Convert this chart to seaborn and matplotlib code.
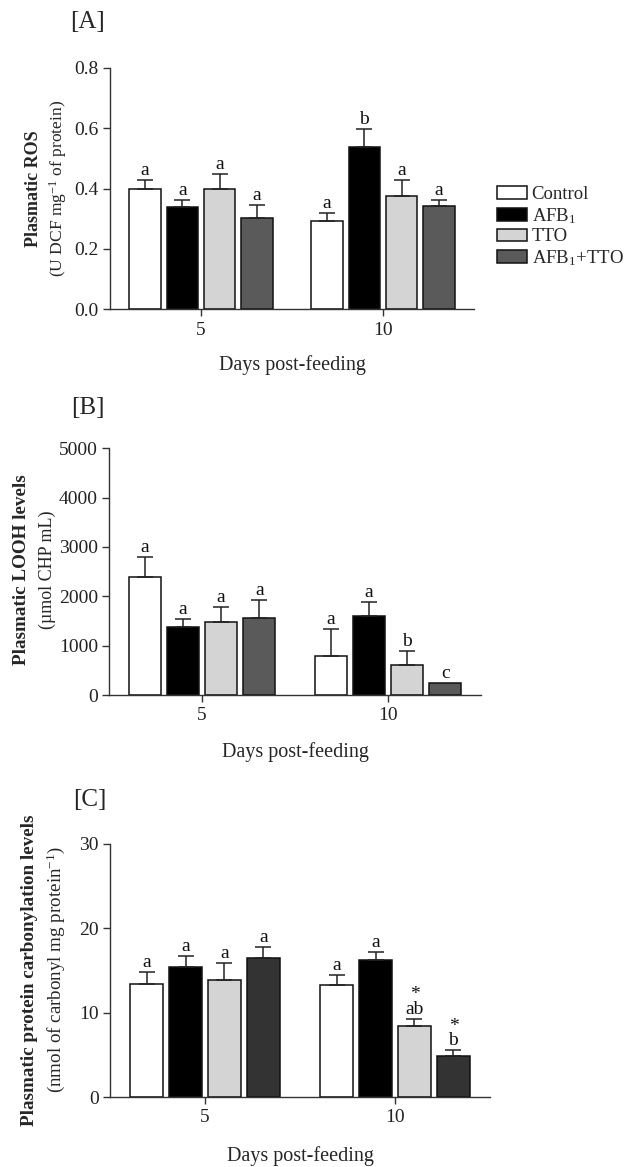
import matplotlib
matplotlib.use("Agg")
import matplotlib.pyplot as plt
import seaborn as sns
import pandas as pd
from matplotlib.patches import Patch

# ---------------- data ----------------
days = ["5", "10"]
groups = ["Control", "AFB$_1$", "TTO", "AFB$_1$+TTO"]

ros_d5 = [0.397, 0.340, 0.399, 0.301]
ros_d10 = [0.292, 0.536, 0.376, 0.343]
ros_err_d5 = [0.030, 0.022, 0.048, 0.044]
ros_err_d10 = [0.026, 0.060, 0.051, 0.018]
ros_letters_d5 = ["a", "a", "a", "a"]
ros_letters_d10 = ["a", "b", "a", "a"]

looh_d5 = [2392, 1369, 1470, 1565]
looh_d10 = [800, 1599, 605, 245]
looh_err_d5 = [406, 169, 305, 352]
looh_err_d10 = [535, 284, 285, 0]
looh_letters_d5 = ["a", "a", "a", "a"]
looh_letters_d10 = ["a", "a", "b", "c"]

carb_d5 = [13.44, 15.34, 13.87, 16.44]
carb_d10 = [13.32, 16.25, 8.46, 4.90]
carb_err_d5 = [1.42, 1.34, 2.02, 1.35]
carb_err_d10 = [1.18, 0.90, 0.83, 0.67]
carb_letters_d5 = ["a", "a", "a", "a"]
carb_letters_d10 = ["a", "a", "*\nab", "*\nb"]

colors_ab = ["#ffffff", "#000000", "#d4d4d4", "#5a5a5a"]
colors_c = ["#ffffff", "#000000", "#d4d4d4", "#333333"]

# ---------------- style ----------------
sns.set_style("ticks")
plt.rcParams["font.family"] = ["Liberation Serif", "DejaVu Serif"]
plt.rcParams["mathtext.fontset"] = "custom"
plt.rcParams["mathtext.rm"] = "Liberation Serif"
plt.rcParams["mathtext.it"] = "Liberation Serif:italic"
plt.rcParams["mathtext.bf"] = "Liberation Serif:bold"
plt.rcParams["axes.edgecolor"] = "#333333"
plt.rcParams["xtick.color"] = "#333333"
plt.rcParams["ytick.color"] = "#333333"
plt.rcParams["xtick.labelcolor"] = "#222222"
plt.rcParams["ytick.labelcolor"] = "#222222"

W, H = 626, 1167
fig = plt.figure(figsize=(W / 100, H / 100), dpi=100)


def px_axes(left, right, top, bottom):
    return fig.add_axes([left / W, 1 - bottom / H, (right - left) / W, (bottom - top) / H])


def panel(ax, d5, d10, e5, e10, l5, l10, colors, ymax, yticks, ticklabels, letter_off):
    rows = []
    for g, v in zip(groups, d5):
        rows.append({"day": "5", "group": g, "value": v})
    for g, v in zip(groups, d10):
        rows.append({"day": "10", "group": g, "value": v})
    df = pd.DataFrame(rows)
    sns.barplot(data=df, x="day", y="value", hue="group", order=days, hue_order=groups,
                palette=colors, width=0.82, gap=0.16, edgecolor="#111111", linewidth=1.1,
                errorbar=None, legend=False, saturation=1, ax=ax)
    errs = [e5, e10]
    lets = [l5, l10]
    bar_conts = list(ax.containers)
    for i, cont in enumerate(bar_conts):
        for j, p in enumerate(cont.patches):
            x = p.get_x() + p.get_width() / 2
            y = p.get_height()
            err = errs[j][i]
            if err > 0:
                ax.errorbar(x, y, yerr=[[0], [err]], fmt="none", ecolor="#222222",
                            elinewidth=1.1, capsize=5.5, capthick=1.1, zorder=1)
            lab = lets[j][i]
            ax.text(x, y + err + letter_off, lab, ha="center", va="bottom",
                    fontsize=14, linespacing=0.8, color="#111111")
    ax.set_ylim(0, ymax)
    ax.set_xlim(-0.5, 1.5)
    ax.set_yticks(yticks)
    ax.set_yticklabels(ticklabels)
    ax.tick_params(axis="both", labelsize=14, length=5, width=1.0, pad=3)
    ax.tick_params(axis="x", pad=4)
    sns.despine(ax=ax)
    for s in ["left", "bottom"]:
        ax.spines[s].set_linewidth(1.0)
    ax.set_ylabel("")
    ax.set_xlabel("Days post-feeding", fontsize=14.5)


# Panel A
axA = px_axes(110, 474, 67.7, 309.3)
panel(axA, ros_d5, ros_d10, ros_err_d5, ros_err_d10, ros_letters_d5, ros_letters_d10,
      colors_ab, 0.8, [0, 0.2, 0.4, 0.6, 0.8], ["0.0", "0.2", "0.4", "0.6", "0.8"], 0.003)
axA.xaxis.set_label_coords(0.5, -56 / 241.6)
axA.xaxis.label.set_va("center")

# Panel B
axB = px_axes(109, 481, 448.3, 695)
panel(axB, looh_d5, looh_d10, looh_err_d5, looh_err_d10, looh_letters_d5, looh_letters_d10,
      colors_ab, 5000, [0, 1000, 2000, 3000, 4000, 5000],
      ["0", "1000", "2000", "3000", "4000", "5000"], 20)
axB.xaxis.set_label_coords(0.5, -57 / 246.7)
axB.xaxis.label.set_va("center")

# Panel C
axC = px_axes(110, 490, 843.7, 1097)
panel(axC, carb_d5, carb_d10, carb_err_d5, carb_err_d10, carb_letters_d5, carb_letters_d10,
      colors_c, 30, [0, 10, 20, 30], ["0", "10", "20", "30"], 0.12)
axC.xaxis.set_label_coords(0.5, -59 / 253.3)
axC.xaxis.label.set_va("center")

# panel letters
for txt, x, y in [("[A]", 88, 22), ("[B]", 88, 408), ("[C]", 90, 800)]:
    fig.text(x / W, 1 - y / H, txt, ha="center", va="center", fontsize=18)

# y labels (two lines: bold title + units)
ylabs = [
    ("Plasmatic ROS", "(U DCF mg$^{-1}$ of protein)", 33, 58, 188.5, 13, 12.6),
    ("Plasmatic LOOH levels", "(µmol CHP mL)", 22, 47, 570, 13.8, 13),
    ("Plasmatic protein carbonylation levels", "(nmol of carbonyl mg protein$^{-1}$)",
     30, 56, 970, 13.8, 13.7),
]
for t1, t2, x1, x2, yc, fs1, fs2 in ylabs:
    fig.text(x1 / W, 1 - yc / H, t1, rotation=90, ha="center", va="center",
             fontsize=fs1, fontweight="bold")
    fig.text(x2 / W, 1 - yc / H, t2, rotation=90, ha="center", va="center", fontsize=fs2)

# legend
handles = [Patch(facecolor=c, edgecolor="#111111", linewidth=1.1) for c in colors_ab]
fig.legend(handles, groups, loc="center left", bbox_to_anchor=(497 / W, 1 - 227 / H),
           frameon=False, fontsize=13.5, handlelength=1.6, handleheight=0.65,
           handletextpad=0.25, labelspacing=0.15, borderpad=0, borderaxespad=0)

fig.savefig("out.png", dpi=100)
